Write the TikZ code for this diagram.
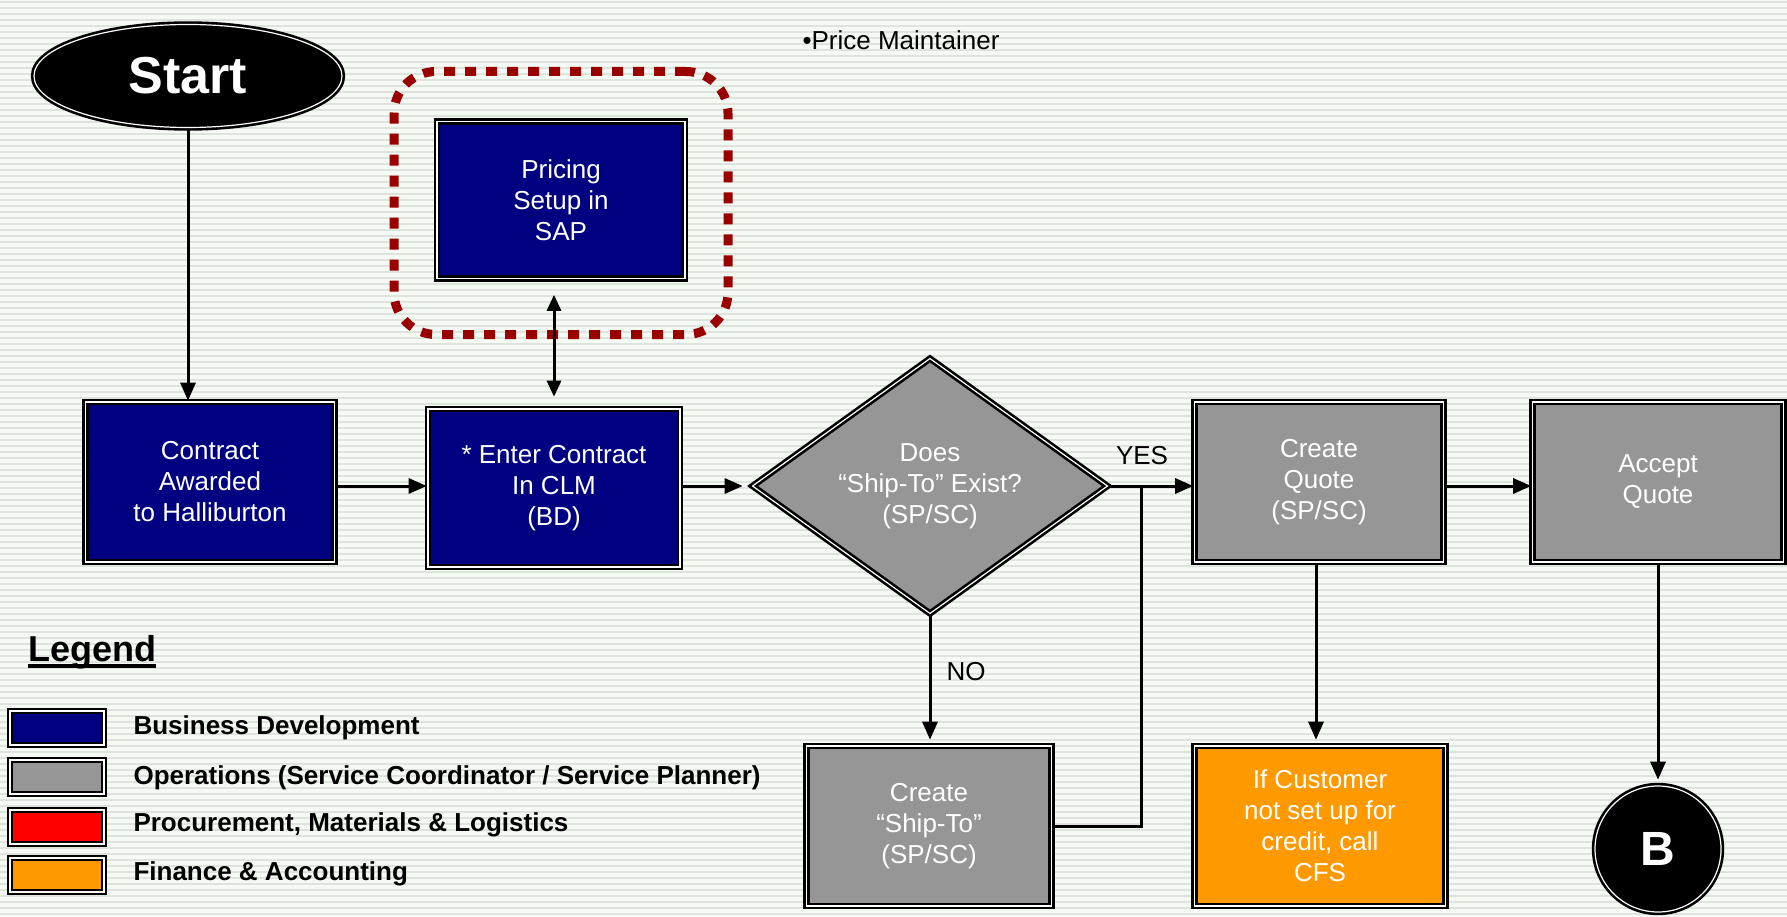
\documentclass[tikz,border=0pt]{standalone}
\usepackage{fontspec}
\setmainfont{Liberation Sans}
\usetikzlibrary{shapes.geometric,arrows.meta,calc}
\definecolor{bgc}{HTML}{F5FAF5}
\definecolor{stripec}{HTML}{DCE4DC}
\definecolor{navyc}{HTML}{000080}
\definecolor{greyc}{HTML}{969696}
\definecolor{orangec}{HTML}{FF9900}
\definecolor{redc}{HTML}{FF0000}
\definecolor{dredc}{HTML}{990000}
\begin{document}
\begin{tikzpicture}[x=1pt,y=-1pt,
  dline/.style={draw=black,line width=2.6pt,double=white,double distance=1.2pt},
  pbox/.style={rectangle,dline,text=white,align=center,inner sep=0pt,
    minimum width=249pt,minimum height=160pt,font=\fontsize{26}{31}\selectfont},
  bdbox/.style={pbox,fill=navyc},
  opbox/.style={pbox,fill=greyc},
  finbox/.style={pbox,fill=orangec},
  legbox/.style={rectangle,dline,minimum width=94pt,minimum height=34pt,inner sep=0pt},
  legtxt/.style={anchor=west,font=\fontsize{26}{31}\selectfont\bfseries},
  arr/.style={line width=3pt,-{Triangle[length=18pt,width=15pt]}},
  arrboth/.style={line width=3pt,{Triangle[length=16pt,width=14pt]}-{Triangle[length=16pt,width=14pt]}},
  conn/.style={line width=3pt},
  lbl/.style={font=\fontsize{26}{31}\selectfont,text=black}
]
\useasboundingbox (0,0) rectangle (1787,917);
\fill[bgc] (0,0) rectangle (1787,917);
\foreach \i in {0,...,152}{\fill[stripec] (0,{\i*6+1}) rectangle (1787,{\i*6+3});}

% nodes
\node[ellipse,dline,fill=black,minimum width=308pt,minimum height=103pt,inner sep=0pt,
  text=white,font=\fontsize{52}{56}\selectfont\bfseries] (start) at (188,76) {Start};
\node[lbl,anchor=west] (pm) at (799,40) {•Price Maintainer};
\node[bdbox,minimum width=248pt,minimum height=157pt] (pricing) at (561,200) {Pricing\\Setup in\\SAP};
\node[rectangle,rounded corners=42pt,draw=dredc,line width=9pt,dash pattern=on 11pt off 10pt,
  minimum width=334pt,minimum height=263pt] (frame) at (561,203) {};
\node[bdbox] (contract) at (210,482) {Contract\\Awarded\\to Halliburton};
\node[bdbox,minimum width=252pt,minimum height=158pt] (enter) at (554,488) {* Enter Contract\\In CLM\\(BD)};
\node[diamond,dline,fill=greyc,aspect=1.39,minimum width=356pt,minimum height=256pt,inner sep=0pt,
  text=white,align=center,font=\fontsize{26}{31}\selectfont] (dec) at (930,486) {Does\\“Ship-To” Exist?\\(SP/SC)};
\node[opbox] (cq) at (1319,482) {Create\\Quote\\(SP/SC)};
\node[opbox,minimum width=251pt] (aq) at (1658,482) {Accept\\Quote};
\node[opbox,minimum width=245pt] (ship) at (929,826) {Create\\“Ship-To”\\(SP/SC)};
\node[finbox,minimum width=251pt] (ifc) at (1320,826) {If Customer\\not set up for\\credit, call\\CFS};
\node[circle,dline,fill=black,minimum size=126pt,inner sep=0pt,text=white,
  font=\fontsize{48}{50}\selectfont\bfseries] (bnode) at (1658,849) {B};

% labels
\node[lbl] (yes) at (1142,456) {YES};
\node[lbl] (no) at (966,672) {NO};

% connectors
\coordinate (row) at (0,486);
\draw[arr] (start.south) -- (start.south |- contract.north);
\draw[arrboth,shorten <=15pt,shorten >=11pt] (enter.north |- pricing.south) -- (enter.north);
\draw[arr] (contract.east |- row) -- (enter.west |- row);
\draw[arr,shorten >=8pt] (enter.east |- row) -- (dec.west);
\draw[arr] (dec.east) -- (cq.west |- dec.east);
\coordinate (junc) at ($(dec.east)+(32,0)$);
\draw[conn] (junc) |- (ship.east);
\draw[arr,shorten >=5pt] (dec.south) -- (dec.south |- ship.north);
\draw[arr] (cq.east |- row) -- (aq.west |- row);
\draw[arr,shorten >=5pt] ([xshift=-3pt]cq.south) -- ([xshift=-3pt]cq.south |- ifc.north);
\draw[arr,shorten >=5pt] (aq.south) -- (bnode.north);

% legend
\node[anchor=west,inner sep=0pt,font=\fontsize{36}{40}\selectfont\bfseries] (legtitle) at (28,652) {Legend};
\draw[line width=3.2pt] ([yshift=3pt]legtitle.south west) coordinate (ul1)
  -- ([yshift=3pt]legtitle.south east) coordinate (ul2);
\node[legbox,fill=navyc] (lg1) at (57,728) {};
\node[legbox,fill=greyc] (lg2) at (57,777) {};
\node[legbox,fill=redc] (lg3) at (57,827) {};
\node[legbox,fill=orangec] (lg4) at (57,875) {};
\node[legtxt] (lt1) at (130,728) {Business Development};
\node[legtxt] (lt2) at (130,778) {Operations (Service Coordinator / Service Planner)};
\node[legtxt] (lt3) at (130,825) {Procurement, Materials \& Logistics};
\node[legtxt] (lt4) at (130,874) {Finance \& Accounting};
\end{tikzpicture}
\end{document}
